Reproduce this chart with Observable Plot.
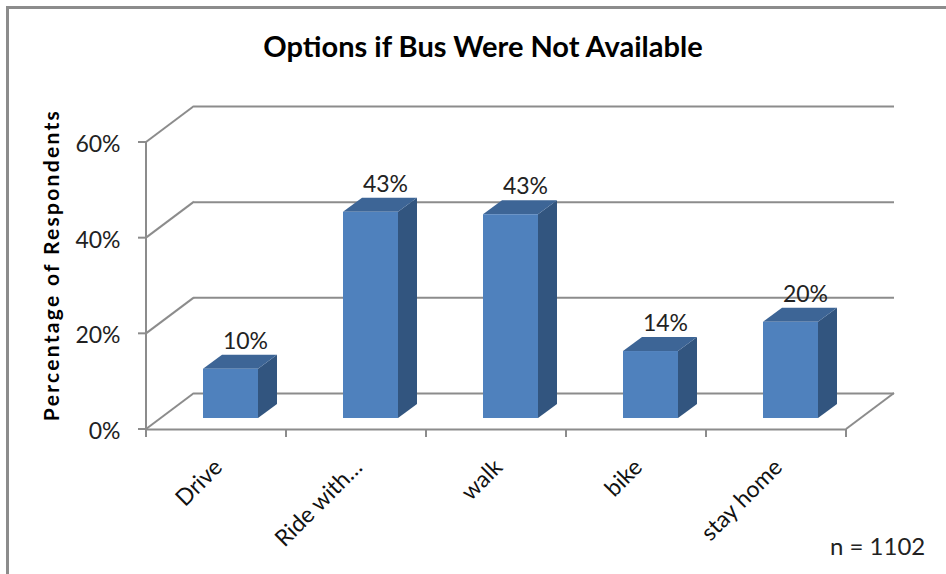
<!DOCTYPE html>
<html>
<head>
<meta charset="utf-8">
<script src="https://cdn.jsdelivr.net/npm/d3@7"></script>
<script src="https://cdn.jsdelivr.net/npm/@observablehq/plot@0.6"></script>
<style>
  html, body { margin: 0; padding: 0; background: #fff; }
  #wrap { position: relative; width: 946px; height: 574px; overflow: hidden; font-family: Lato, "Open Sans", sans-serif; color: #111; }
  #borderTop { position: absolute; left: 6px; top: 6px; width: 940px; height: 3px; background: #8c8c8c; }
  #borderLeft { position: absolute; left: 6px; top: 6px; width: 3px; height: 568px; background: #8c8c8c; }
  #title { position: absolute; left: 483px; top: 31px; transform: translateX(-50%); font-size: 29px; line-height: 30px; font-weight: bold; white-space: nowrap; color: #000; }
  #ylabel { position: absolute; left: 50px; top: 265px; transform: translate(-50%, -50%) rotate(-90deg); font-size: 21px; font-weight: bold; white-space: nowrap; letter-spacing: 2.3px; color: #000; }
  #note { position: absolute; left: 830px; top: 532px; font-size: 24px; line-height: 28px; white-space: nowrap; color: #222; }
  #chart { position: absolute; left: 0; top: 0; }
</style>
</head>
<body>
<div id="wrap">
  <div id="chart"></div>
  <div id="borderTop"></div>
  <div id="borderLeft"></div>
  <div id="title">Options if Bus Were Not Available</div>
  <div id="ylabel">Percentage of Respondents</div>
  <div id="note">n = 1102</div>
</div>
<script>
// ---- data ----
const categories = ["Drive", "Ride with…", "walk", "bike", "stay home"];
const values = [10.3, 43.1, 42.6, 14.0, 20.1];
const yTicks = [0, 20, 40, 60];

// ---- styling constants ----
const FRONT = "#4f81bd";
const SIDE = "#32557f";
const TOP = "#3d6596";
const GRID = "#8c8c8c";
const WALL_DX = 48, WALL_DY = -36;   // depth of the chart box
const BAR_DX = 19, BAR_DY = -14;     // depth of a bar
const BAR_INSET_L = 57, BAR_INSET_R = 28, BAR_SHIFT_Y = -11;

const rows = categories.map((c, i) => ({category: c, value: values[i], label: d3.format(".0f")(values[i]) + "%"}));

function frameLines(index, scales) {
  const x = scales.x, y = scales.y;
  const bw = x.bandwidth ? x.bandwidth() : x.step();
  const left = x(categories[0]);
  const right = x(categories[categories.length - 1]) + bw;
  const g = d3.create("svg:g").attr("stroke", GRID).attr("stroke-width", 2).attr("fill", "none");
  for (const t of yTicks) {
    g.append("line").attr("x1", left).attr("y1", y(t)).attr("x2", left + WALL_DX).attr("y2", y(t) + WALL_DY);
    g.append("line").attr("x1", left - 8).attr("y1", y(t)).attr("x2", left).attr("y2", y(t));
  }
  g.append("line").attr("x1", right).attr("y1", y(0)).attr("x2", right + WALL_DX).attr("y2", y(0) + WALL_DY);
  g.append("line").attr("x1", left).attr("y1", y(0)).attr("x2", left).attr("y2", y(yTicks[yTicks.length - 1]));
  const bounds = categories.map(c => x(c)).concat([right]);
  for (const b of bounds) {
    g.append("line").attr("x1", b).attr("y1", y(0)).attr("x2", b).attr("y2", y(0) + 8);
  }
  return g.node();
}

function barDepth(index, scales) {
  const x = scales.x, y = scales.y;
  const bw = x.bandwidth ? x.bandwidth() : x.step();
  const g = d3.create("svg:g");
  rows.forEach(r => {
    const x0 = x(r.category) + BAR_INSET_L;
    const x1 = x(r.category) + bw - BAR_INSET_R;
    const yb = y(0) + BAR_SHIFT_Y;
    const yt = y(r.value) + BAR_SHIFT_Y;
    g.append("path")
      .attr("d", `M${x1},${yb}L${x1 + BAR_DX},${yb + BAR_DY}L${x1 + BAR_DX},${yt + BAR_DY}L${x1},${yt}Z`)
      .attr("fill", SIDE);
    g.append("path")
      .attr("d", `M${x0},${yt}L${x0 + BAR_DX},${yt + BAR_DY}L${x1 + BAR_DX},${yt + BAR_DY}L${x1},${yt}Z`)
      .attr("fill", TOP);
  });
  return g.node();
}

const chart = Plot.plot({
  width: 946,
  height: 574,
  marginLeft: 146,
  marginRight: 100,
  marginTop: 142,
  marginBottom: 145,
  style: {fontFamily: "Lato, 'Open Sans', sans-serif", fontSize: "22px", color: "#222", background: "transparent"},
  x: {domain: categories, padding: 0, axis: null},
  y: {domain: [0, 60], axis: null},
  marks: [
    Plot.ruleY(yTicks, {dx: WALL_DX, dy: WALL_DY, stroke: GRID, strokeWidth: 2}),
    Plot.ruleY([0], {stroke: GRID, strokeWidth: 2}),
    frameLines,
    barDepth,
    Plot.barY(rows, {x: "category", y: "value", fill: FRONT, insetLeft: BAR_INSET_L, insetRight: BAR_INSET_R, dy: BAR_SHIFT_Y}),
    Plot.text(rows, {x: "category", y: "value", text: "label", dx: 29, dy: -39, fill: "#222", fontSize: 23}),
    Plot.text(yTicks, {y: d => d, text: d => d + "%", frameAnchor: "left", textAnchor: "end", dx: -26, dy: 2, fill: "#222", fontSize: 23}),
    Plot.text(rows, {x: "category", y: () => 0, text: "category", rotate: -45, textAnchor: "end", dx: 2, dy: 34, fill: "#111", fontSize: 23})
  ]
});
document.getElementById("chart").appendChild(chart);
</script>
</body>
</html>
